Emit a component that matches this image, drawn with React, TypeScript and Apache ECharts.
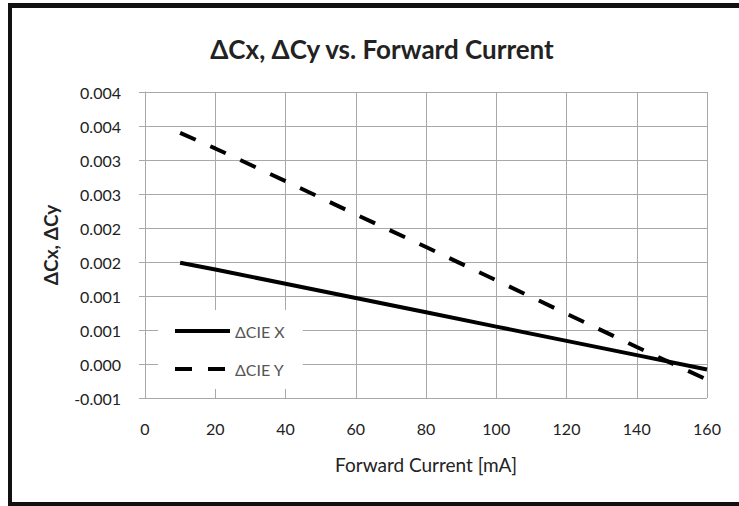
import React, { useEffect, useRef } from "react";
import * as echarts from "echarts";

const currents = [10, 20, 40, 60, 80, 100, 120, 140, 160];
const cieX = [0.00149, 0.00139, 0.00118, 0.00097, 0.00076, 0.00055, 0.00034, 0.00013, -0.00008];
const cieY = [0.0034, 0.00317, 0.00269, 0.0022, 0.00172, 0.00123, 0.00074, 0.00025, -0.00023];
const yTickLabels = ["-0.001", "0.000", "0.001", "0.001", "0.002", "0.002", "0.003", "0.003", "0.004", "0.004"];
const yMin = -0.0005;
const yMax = 0.004;
const yStep = 0.0005;
const xTicks = [0, 20, 40, 60, 80, 100, 120, 140, 160];

const FONT = "Lato, 'Open Sans', sans-serif";
const GRID = "#a8a8a8";
const DASH = [17, 16];

export default function App() {
  const ref = useRef<HTMLDivElement>(null);
  useEffect(() => {
    if (!ref.current) return;
    const chart = echarts.init(ref.current, null, { renderer: "svg" });
    chart.setOption({
      animation: false,
      backgroundColor: "#fff",
      title: {
        text: "ΔCx, ΔCy vs. Forward Current",
        left: 377,
        top: 31,
        textAlign: "center",
        textStyle: { fontFamily: FONT, fontSize: 26, fontWeight: "bold", color: "#222" },
      },
      grid: { left: 145, right: 32, top: 92, bottom: 108, containLabel: false },
      legend: {
        orient: "vertical",
        left: 158,
        top: 310,
        backgroundColor: "#fff",
        padding: [13, 18, 12, 15],
        itemWidth: 55,
        itemHeight: 14,
        itemGap: 22,
        itemStyle: { opacity: 0 },
        lineStyle: { width: 4 },
        textStyle: { fontFamily: FONT, fontSize: 16, color: "#555" },
        data: ["ΔCIE X", "ΔCIE Y"],
      },
      xAxis: {
        type: "value",
        min: xTicks[0],
        max: xTicks[xTicks.length - 1],
        interval: 20,
        name: "Forward Current [mA]",
        nameLocation: "middle",
        nameGap: 57,
        nameTextStyle: { fontFamily: FONT, fontSize: 19, color: "#222" },
        axisLine: { show: true, lineStyle: { color: GRID, width: 1 } },
        axisTick: { show: true, length: 6, lineStyle: { color: GRID } },
        axisLabel: { fontFamily: FONT, fontSize: 16, color: "#222", margin: 22 },
        splitLine: { show: true, lineStyle: { color: GRID, width: 1 } },
      },
      yAxis: {
        type: "value",
        min: yMin,
        max: yMax,
        interval: yStep,
        name: "ΔCx, ΔCy",
        nameLocation: "middle",
        nameGap: 85,
        nameRotate: 90,
        nameTextStyle: { fontFamily: FONT, fontSize: 19, fontWeight: "bold", color: "#222" },
        axisLine: { show: true, lineStyle: { color: GRID, width: 1 } },
        axisTick: { show: true, length: 6, lineStyle: { color: GRID } },
        axisLabel: {
          fontFamily: FONT,
          fontSize: 16,
          color: "#222",
          margin: 24,
          formatter: (v: number) => {
            const i = Math.round((v - yMin) / yStep);
            return yTickLabels[i] ?? "";
          },
        },
        splitLine: { show: true, lineStyle: { color: GRID, width: 1 } },
      },
      series: [
        {
          name: "ΔCIE X",
          type: "line",
          symbol: "none",
          showSymbol: false,
          data: currents.map((c, i) => [c, cieX[i]]),
          lineStyle: { color: "#000", width: 4 },
          itemStyle: { color: "#000" },
        },
        {
          name: "ΔCIE Y",
          type: "line",
          symbol: "none",
          showSymbol: false,
          data: currents.map((c, i) => [c, cieY[i]]),
          lineStyle: { color: "#000", width: 4, type: DASH },
          itemStyle: { color: "#000" },
        },
      ],
      graphic: [
        { type: "rect", shape: { x: 8, y: 3, width: 4, height: 503 }, style: { fill: "#111" } },
        { type: "rect", shape: { x: 8, y: 3, width: 731, height: 5 }, style: { fill: "#111" } },
        { type: "rect", shape: { x: 8, y: 502, width: 731, height: 4 }, style: { fill: "#111" } },
      ],
    });
    return () => chart.dispose();
  }, []);
  return (
    <div
      ref={ref}
      style={{ position: "absolute", left: 0, top: 0, width: 739, height: 506, background: "#fff" }}
    />
  );
}
